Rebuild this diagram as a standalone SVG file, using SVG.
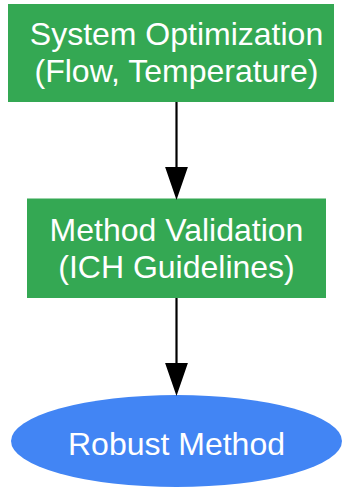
<svg xmlns="http://www.w3.org/2000/svg" width="342" height="487" viewBox="0 0 342 487">
<defs>
<style>
.box{fill:#34a853;}
.ell{fill:#4285f4;}
.t{font-family:"Liberation Sans",Arial,sans-serif;font-size:32px;fill:#ffffff;text-anchor:middle;}
.edge{stroke:#000;stroke-width:2.2;fill:none;}
.head{fill:#000;stroke:#000;stroke-width:2;}
</style>
</defs>
<g id="n1">
<rect class="box" x="8" y="4" width="326" height="98"/>
<text class="t" x="176.5" y="45">System Optimization</text>
<text class="t" x="176.5" y="82">(Flow, Temperature)</text>
</g>
<g id="n2">
<rect class="box" x="27" y="198.5" width="299" height="99.5"/>
<text class="t" x="176.5" y="241">Method Validation</text>
<text class="t" x="176.5" y="278">(ICH Guidelines)</text>
</g>
<g id="n3">
<ellipse class="ell" cx="176.5" cy="441" rx="165.5" ry="46"/>
<text class="t" x="176.5" y="455">Robust Method</text>
</g>
<g id="edges">
<line class="edge" x1="176.5" y1="102" x2="176.5" y2="168"/>
<polygon class="head" points="166.5,168 186.5,168 176.5,197"/>
<line class="edge" x1="176.5" y1="298" x2="176.5" y2="364"/>
<polygon class="head" points="166.5,364 186.5,364 176.5,393"/>
</g>
</svg>
